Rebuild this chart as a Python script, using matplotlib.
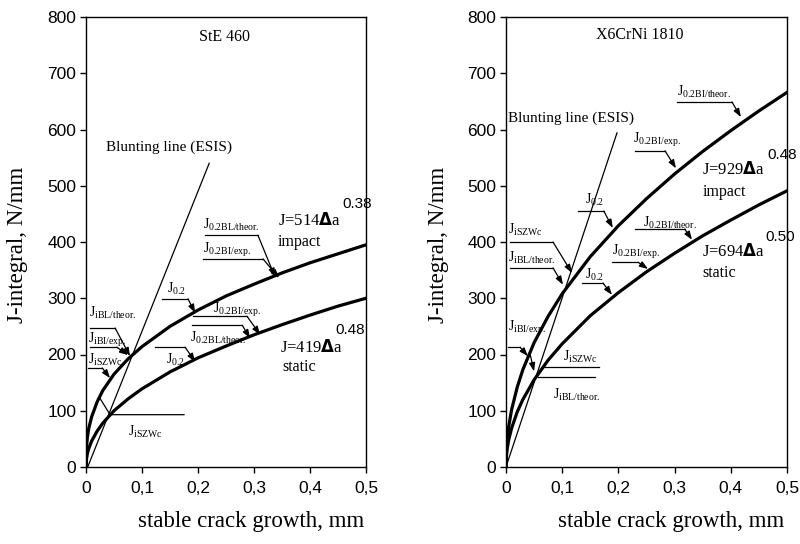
import matplotlib
matplotlib.use("Agg")
import matplotlib.pyplot as plt

plt.rcParams['mathtext.fontset'] = 'custom'
plt.rcParams['mathtext.rm'] = 'Liberation Serif'
plt.rcParams['mathtext.it'] = 'Liberation Serif:italic'
plt.rcParams['mathtext.bf'] = 'DejaVu Sans:bold'

SERIF = ['Liberation Serif', 'DejaVu Serif']
SANS = ['Liberation Sans', 'DejaVu Sans']

# ---------------- data ----------------
da = [0, 0.001, 0.0025, 0.005, 0.01, 0.02, 0.03, 0.05, 0.075, 0.1, 0.15,
      0.2, 0.25, 0.3, 0.35, 0.4, 0.45, 0.5]

# StE 460
ste_impact = [0, 37, 53, 69, 89, 116, 136, 165, 192, 214, 250,
              279, 304, 325, 345, 363, 379, 395]
ste_static = [0, 15, 24, 33, 46, 64, 78, 100, 121, 139, 169,
              194, 215, 235, 253, 270, 286, 300]
ste_blunt_x = [0.003, 0.22]
ste_blunt_j = [0, 540]

# X6CrNi 1810
x6_impact = [0, 34, 52, 73, 102, 142, 173, 221, 268, 308, 374,
             429, 477, 521, 561, 598, 633, 666]
x6_static = [0, 22, 35, 49, 69, 98, 120, 155, 190, 219, 269,
             310, 347, 380, 411, 439, 466, 491]
x6_blunt_x = [0, 0.1975]
x6_blunt_j = [0, 594]

xticks = [0, 0.1, 0.2, 0.3, 0.4, 0.5]
xtick_labels = ['0', '0,1', '0,2', '0,3', '0,4', '0,5']
yticks = [0, 100, 200, 300, 400, 500, 600, 700, 800]

# ---------------- figure ----------------
fig = plt.figure(figsize=(8, 5.44), dpi=100)
axL = fig.add_axes([86 / 800, 77 / 544, 280 / 800, 450 / 544])
axR = fig.add_axes([506 / 800, 77 / 544, 281 / 800, 450 / 544])


def setup(ax):
    ax.set_xlim(0, 0.5)
    ax.set_ylim(0, 800)
    ax.set_xticks(xticks)
    ax.set_xticklabels(xtick_labels)
    ax.set_yticks(yticks)
    for s in ax.spines.values():
        s.set_linewidth(1.0)
    ax.tick_params(direction='out', length=4, width=1, labelsize=12.5)
    ax.tick_params(axis='x', pad=6)
    ax.tick_params(axis='y', pad=3)
    for lab in ax.get_xticklabels() + ax.get_yticklabels():
        lab.set_family(SANS)


def jl(sub):
    return 'J$_{\\rm ' + sub + '}$'


def leader(ax, label, txy, hx0, hx1, hy, tip):
    ax.text(txy[0], txy[1], label, fontsize=10, family=SERIF,
            ha='left', va='center')
    ax.plot([hx0, hx1], [hy, hy], color='k', lw=0.9)
    ax.annotate('', xy=tip, xytext=(hx1, hy),
                arrowprops=dict(arrowstyle='-|>,head_length=0.5,head_width=0.18',
                                color='k', lw=0.9, shrinkA=0, shrinkB=0))


for ax in (axL, axR):
    setup(ax)

THICK = 2.3

# ---- left panel ----
axL.plot(da, ste_impact, color='k', lw=THICK)
axL.plot(da, ste_static, color='k', lw=THICK)
axL.plot(ste_blunt_x, ste_blunt_j, color='k', lw=0.9)

axL.text(0.248, 764, 'StE 460', fontsize=11.5, family=SERIF, ha='center', va='center')
axL.text(0.036, 569, 'Blunting line (ESIS)', fontsize=11, family=SERIF, ha='left', va='center')
axL.text(0.343, 439, 'J=514$\\mathbf{\\Delta}$a', fontsize=12, family=SERIF, ha='left', va='center')
axL.text(0.457, 467, '0.38', fontsize=11, family=SANS, ha='left', va='center')
axL.text(0.343, 400, 'impact', fontsize=11.5, family=SERIF, ha='left', va='center')
axL.text(0.346, 213, 'J=419$\\mathbf{\\Delta}$a', fontsize=12, family=SERIF, ha='left', va='center')
axL.text(0.445, 243, '0.48', fontsize=11, family=SANS, ha='left', va='center')
axL.text(0.35, 178, 'static', fontsize=11.5, family=SERIF, ha='left', va='center')

leader(axL, jl('0.2BL/theor.'), (0.209, 430), 0.212, 0.307, 412, (0.3375, 338))
leader(axL, jl('0.2BI/exp.'), (0.209, 386), 0.209, 0.316, 370, (0.3446, 336))
leader(axL, jl('0.2'), (0.145, 316), 0.136, 0.182, 299, (0.195, 274))
leader(axL, jl('0.2'), (0.143, 190), 0.123, 0.177, 213, (0.195, 187))
leader(axL, jl('0.2BI/exp.'), (0.227, 279), 0.191, 0.2875, 268, (0.311, 235))
leader(axL, jl('0.2BL/theor.'), (0.186, 229), 0.189, 0.279, 252, (0.293, 229))
leader(axL, jl('iBL/theor.'), (0.005, 274), 0.007, 0.052, 247, (0.0786, 197))
leader(axL, jl('iBI/exp.'), (0.004, 226), 0.007, 0.055, 213, (0.075, 199))
leader(axL, jl('iSZWc'), (0.004, 190), 0.004, 0.029, 176, (0.043, 158))
# lower SZW leader
axL.plot([0.175, 0.043, 0.025], [93, 93, 122], color='k', lw=0.9)
axL.text(0.075, 62, jl('iSZWc'), fontsize=10, family=SERIF, ha='left', va='center')

# ---- right panel ----
axR.plot(da, x6_impact, color='k', lw=THICK)
axR.plot(da, x6_static, color='k', lw=THICK)
axR.plot(x6_blunt_x, x6_blunt_j, color='k', lw=0.9)

axR.text(0.238, 768, 'X6CrNi 1810', fontsize=11.5, family=SERIF, ha='center', va='center')
axR.text(0.0036, 620, 'Blunting line (ESIS)', fontsize=11, family=SERIF, ha='left', va='center')
axR.text(0.349, 528, 'J=929$\\mathbf{\\Delta}$a', fontsize=12, family=SERIF, ha='left', va='center')
axR.text(0.4645, 555, '0.48', fontsize=11, family=SANS, ha='left', va='center', clip_on=False)
axR.text(0.35, 489, 'impact', fontsize=11.5, family=SERIF, ha='left', va='center')
axR.text(0.349, 384, 'J=694$\\mathbf{\\Delta}$a', fontsize=12, family=SERIF, ha='left', va='center')
axR.text(0.461, 409, '0.50', fontsize=11, family=SANS, ha='left', va='center', clip_on=False)
axR.text(0.35, 345, 'static', fontsize=11.5, family=SERIF, ha='left', va='center')

leader(axR, jl('0.2BI/theor.'), (0.304, 667), 0.304, 0.402, 649, (0.418, 622))
leader(axR, jl('0.2BI/exp.'), (0.226, 581), 0.2295, 0.283, 562, (0.3025, 531))
leader(axR, jl('0.2'), (0.1405, 475), 0.128, 0.174, 455, (0.19, 425))
leader(axR, jl('0.2BI/theor.'), (0.244, 434), 0.2295, 0.318, 423, (0.331, 404))
leader(axR, jl('0.2BI/exp.'), (0.1885, 382), 0.1885, 0.235, 364, (0.2527, 352))
leader(axR, jl('0.2'), (0.1405, 341), 0.135, 0.1726, 327, (0.1886, 306))
leader(axR, jl('iSZWc'), (0.0036, 421), 0.007, 0.0836, 400, (0.1174, 345))
leader(axR, jl('iBL/theor.'), (0.0036, 372), 0.007, 0.0836, 354, (0.1014, 324))
leader(axR, jl('iBI/exp.'), (0.0036, 247), 0.0036, 0.025, 213, (0.039, 197))
axR.annotate('', xy=(0.05, 170), xytext=(0.043, 200),
             arrowprops=dict(arrowstyle='-|>,head_length=0.5,head_width=0.18',
                             color='k', lw=0.9, shrinkA=0, shrinkB=0))
axR.plot([0.066, 0.165], [178, 178], color='k', lw=0.9)
axR.text(0.101, 196, jl('iSZWc'), fontsize=10, family=SERIF, ha='left', va='center')
axR.plot([0.057, 0.158], [160, 160], color='k', lw=0.9)
axR.text(0.084, 128, jl('iBL/theor.'), fontsize=10, family=SERIF, ha='left', va='center')

# ---- axis labels ----
for xc in (251, 671):
    fig.text(xc / 800, 1 - 522 / 544, 'stable crack growth, mm', fontsize=16.5,
             family=SERIF, ha='center', va='center')
for xc in (18, 439):
    fig.text(xc / 800, 1 - 245 / 544, 'J-integral, N/mm', fontsize=16.5,
             family=SERIF, ha='center', va='center', rotation=90)

fig.savefig('out.png', dpi=100)
